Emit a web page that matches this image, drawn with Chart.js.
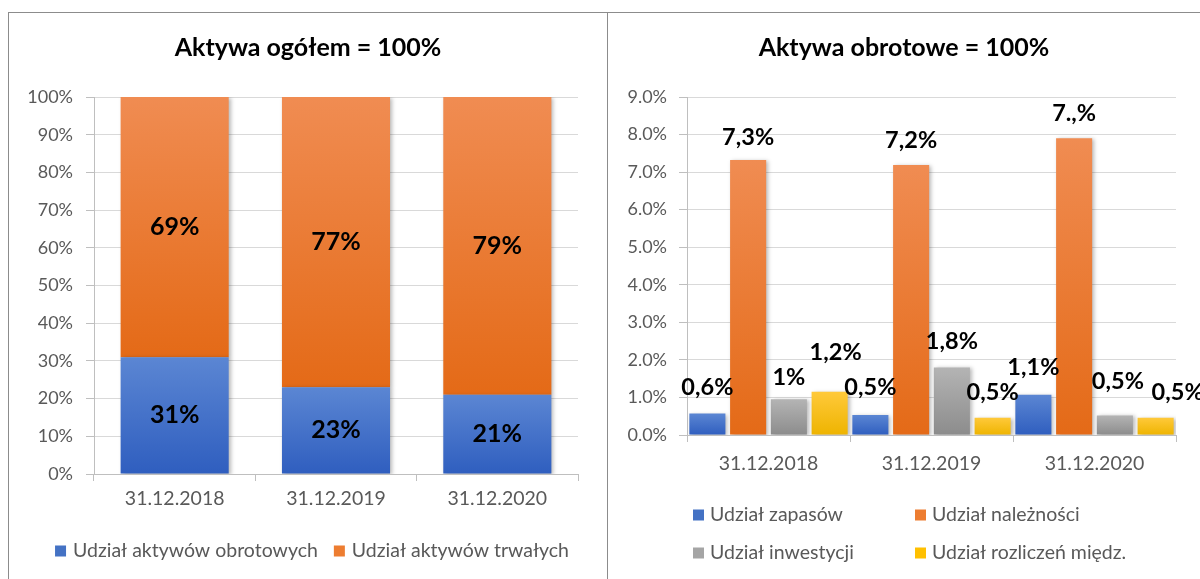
<!DOCTYPE html>
<html>
<head>
<meta charset="utf-8">
<script src="https://cdn.jsdelivr.net/npm/chart.js@4.4.0/dist/chart.umd.min.js"></script>
<style>
  html, body { margin: 0; padding: 0; background: #fff; width: 1200px; height: 579px; overflow: hidden; }
  #frame { position: absolute; left: 8px; top: 12px; width: 1200px; height: 600px; border-top: 1px solid #8c8c8c; border-left: 1px solid #8c8c8c; }
  #divider { position: absolute; left: 607px; top: 12px; width: 1px; height: 600px; background: #8c8c8c; }
  #leftBox { position: absolute; left: 9px; top: 13px; width: 598px; height: 566px; }
  #rightBox { position: absolute; left: 608px; top: 13px; width: 592px; height: 566px; }
</style>
</head>
<body>
<div id="frame"></div>
<div id="divider"></div>
<div id="leftBox"><canvas id="leftChart"></canvas></div>
<div id="rightBox"><canvas id="rightChart"></canvas></div>
<script>
// dane
const categories = ['31.12.2018', '31.12.2019', '31.12.2020'];

// lewy wykres - struktura aktywów
const udzialObrotowych = [31, 23, 21];
const udzialTrwalych = [69, 77, 79];
const leftTicks = ['0%', '10%', '20%', '30%', '40%', '50%', '60%', '70%', '80%', '90%', '100%'];
const leftLabels = [['31%', '23%', '21%'], ['69%', '77%', '79%']];

// prawy wykres - struktura aktywów obrotowych
const udzialZapasow = [0.57, 0.53, 1.07];
const udzialNaleznosci = [7.32, 7.19, 7.9];
const udzialInwestycji = [0.95, 1.8, 0.52];
const udzialRozliczen = [1.15, 0.46, 0.46];
const rightTicks = ['0.0%', '1.0%', '2.0%', '3.0%', '4.0%', '5.0%', '6.0%', '7.0%', '8.0%', '9.0%'];
const rightLabels = [
  ['0,6%', '0,5%', '1,1%'],
  ['7,3%', '7,2%', '7.,%'],
  ['1%', '1,8%', '0,5%'],
  ['1,2%', '0,5%', '0,5%']
];

const FONT = 'Lato';
const TEXT_GREY = '#595959';

// gradient od góry do dołu każdego słupka
function barGradient(top, bottom, solid) {
  return function (ctx) {
    const chart = ctx.chart;
    const y = chart.scales.y;
    if (ctx.type !== 'data' || !chart.chartArea || !y) return solid;
    const sets = chart.data.datasets;
    let start = 0;
    if (chart.options.scales.y.stacked) {
      for (let i = 0; i < ctx.datasetIndex; i++) start += sets[i].data[ctx.dataIndex];
    }
    const end = start + sets[ctx.datasetIndex].data[ctx.dataIndex];
    const yTop = y.getPixelForValue(end);
    const yBot = y.getPixelForValue(start);
    if (!isFinite(yTop) || !isFinite(yBot) || yTop === yBot) return solid;
    const g = chart.ctx.createLinearGradient(0, yTop, 0, yBot);
    g.addColorStop(0, top);
    g.addColorStop(1, bottom);
    return g;
  };
}

const BLUE = ['#5b86d3', '#2f5ebf', '#4472c4'];
const ORANGE = ['#f08c52', '#e46a17', '#ed7d31'];
const GREY = ['#b4b4b4', '#8c8c8c', '#a5a5a5'];
const YELLOW = ['#ffc93a', '#eeb400', '#ffc000'];

// cień słupków
const barShadow = {
  id: 'barShadow',
  beforeDatasetsDraw(chart) {
    const c = chart.ctx;
    c.save();
    c.shadowColor = 'rgba(0,0,0,0.28)';
    c.shadowBlur = 4;
    c.shadowOffsetX = 2;
    c.shadowOffsetY = 1;
  },
  afterDatasetsDraw(chart) {
    chart.ctx.restore();
  }
};

// etykiety danych
const valueLabels = {
  id: 'valueLabels',
  afterDatasetsDraw(chart, args, opts) {
    const c = chart.ctx;
    c.save();
    c.font = 'bold ' + opts.size + 'px ' + FONT;
    c.fillStyle = '#000';
    c.textAlign = 'center';
    c.textBaseline = 'middle';
    chart.data.datasets.forEach((ds, i) => {
      chart.getDatasetMeta(i).data.forEach((el, j) => {
        const text = opts.labels[i][j];
        if (opts.mode === 'center') {
          c.fillText(text, el.x, (el.y + el.base) / 2);
        } else {
          const n = (opts.nudge && opts.nudge[i][j]) || [0, 0];
          c.fillText(text, el.x + n[0], el.y - opts.gap + n[1]);
        }
      });
    });
    c.restore();
  }
};

// legenda rysowana na płótnie
const gridLegend = {
  id: 'gridLegend',
  afterDraw(chart, args, opts) {
    const c = chart.ctx;
    const area = chart.chartArea;
    c.save();
    c.font = opts.size + 'px ' + FONT;
    c.textBaseline = 'middle';
    c.textAlign = 'left';
    const sets = chart.data.datasets;
    if (opts.columns === 0) {
      // jeden wiersz, wyśrodkowany
      const widths = sets.map(ds => opts.box + opts.textGap + c.measureText(ds.label).width);
      const total = widths.reduce((a, b) => a + b, 0) + opts.spacing * (sets.length - 1);
      let x = chart.width / 2 - total / 2 + (opts.shift || 0);
      const y = area.bottom + opts.rowOffsets[0];
      sets.forEach((ds, i) => {
        c.fillStyle = opts.colors[i];
        c.fillRect(x, y - opts.box / 2, opts.box, opts.box);
        c.fillStyle = TEXT_GREY;
        c.fillText(ds.label, x + opts.box + opts.textGap, y);
        x += widths[i] + opts.spacing;
      });
    } else {
      sets.forEach((ds, i) => {
        const col = i % opts.columns;
        const row = Math.floor(i / opts.columns);
        const x = area.left + opts.colOffsets[col];
        const y = area.bottom + opts.rowOffsets[row];
        c.fillStyle = opts.colors[i];
        c.fillRect(x, y - opts.box / 2, opts.box, opts.box);
        c.fillStyle = TEXT_GREY;
        c.fillText(ds.label, x + opts.box + opts.textGap, y);
      });
    }
    c.restore();
  }
};

Chart.defaults.font.family = FONT;
Chart.defaults.color = TEXT_GREY;

function yAxis(ticks, max, width, padding) {
  return {
    min: 0,
    max: max,
    ticks: {
      stepSize: max / (ticks.length - 1),
      font: { size: 18 },
      color: TEXT_GREY,
      padding: padding,
      callback: (v, i) => ticks[i]
    },
    grid: { color: '#d9d9d9', tickColor: '#bfbfbf', tickLength: 8 },
    border: { display: true, color: '#bfbfbf' },
    afterFit: s => { s.width = width; }
  };
}

// pusta oś po prawej - tylko margines, żeby tytuł był wyśrodkowany na całym płótnie
function spacerAxis(width) {
  return {
    position: 'right',
    display: true,
    ticks: { display: false },
    grid: { display: false },
    border: { display: false },
    afterFit: s => { s.width = width; }
  };
}

function xAxis(height, padding) {
  return {
    ticks: { font: { size: 19.5 }, color: TEXT_GREY, padding: padding },
    grid: { drawOnChartArea: false, drawTicks: true, tickLength: 7, tickColor: '#bfbfbf', color: '#bfbfbf' },
    border: { display: true, color: '#bfbfbf' },
    afterFit: s => { s.height = height; }
  };
}

function title(text) {
  return {
    display: true,
    text: text,
    color: '#000',
    font: { size: 25, weight: 'bold', family: FONT },
    padding: { top: 20, bottom: 34 }
  };
}

// lewy wykres - słupki skumulowane
new Chart(document.getElementById('leftChart'), {
  type: 'bar',
  data: {
    labels: categories,
    datasets: [
      { label: 'Udział aktywów obrotowych', data: udzialObrotowych, backgroundColor: barGradient(BLUE[0], BLUE[1], BLUE[2]) },
      { label: 'Udział aktywów trwałych', data: udzialTrwalych, backgroundColor: barGradient(ORANGE[0], ORANGE[1], ORANGE[2]) }
    ]
  },
  options: {
    responsive: true,
    maintainAspectRatio: false,
    animation: false,
    layout: { padding: { left: 0, right: 0, bottom: 47 } },
    datasets: { bar: { barPercentage: 0.67, categoryPercentage: 1 } },
    scales: {
      x: Object.assign(xAxis(58, 6), { stacked: true }),
      y: Object.assign(yAxis(leftTicks, 100, 85, 13), { stacked: true }),
      pad: spacerAxis(29)
    },
    plugins: {
      legend: { display: false },
      tooltip: { enabled: false },
      title: title('Aktywa ogółem = 100%'),
      valueLabels: { mode: 'center', size: 25, labels: leftLabels },
      gridLegend: { columns: 0, size: 19.5, box: 11, textGap: 7, spacing: 16, shift: 4, rowOffsets: [77], colors: [BLUE[2], ORANGE[2]] }
    }
  },
  plugins: [barShadow, valueLabels, gridLegend]
});

// prawy wykres - słupki grupowane
new Chart(document.getElementById('rightChart'), {
  type: 'bar',
  data: {
    labels: categories,
    datasets: [
      { label: 'Udział zapasów', data: udzialZapasow, backgroundColor: barGradient(BLUE[0], BLUE[1], BLUE[2]) },
      { label: 'Udział należności', data: udzialNaleznosci, backgroundColor: barGradient(ORANGE[0], ORANGE[1], ORANGE[2]) },
      { label: 'Udział inwestycji', data: udzialInwestycji, backgroundColor: barGradient(GREY[0], GREY[1], GREY[2]) },
      { label: 'Udział rozliczeń międz.', data: udzialRozliczen, backgroundColor: barGradient(YELLOW[0], YELLOW[1], YELLOW[2]) }
    ]
  },
  options: {
    responsive: true,
    maintainAspectRatio: false,
    animation: false,
    layout: { padding: { left: 0, right: 0, bottom: 94 } },
    datasets: { bar: { barPercentage: 0.885, categoryPercentage: 1 } },
    scales: {
      x: xAxis(50, 10),
      y: yAxis(rightTicks, 9, 79, 12),
      pad: spacerAxis(24)
    },
    plugins: {
      legend: { display: false },
      tooltip: { enabled: false },
      title: title('Aktywa obrotowe = 100%'),
      valueLabels: {
        mode: 'top',
        size: 23.5,
        gap: 25,
        labels: rightLabels,
        nudge: [
          [[0, -1], [0, -3], [0, -2]],
          [[0, 2], [0, 0], [0, 0]],
          [[0, 3], [0, -1], [3, -9]],
          [[6, -14], [0, 0], [22, 0]]
        ]
      },
      gridLegend: { columns: 2, size: 19.5, box: 11, textGap: 6, colOffsets: [6, 228], rowOffsets: [80, 118], colors: [BLUE[2], ORANGE[2], GREY[2], YELLOW[2]] }
    }
  },
  plugins: [barShadow, valueLabels, gridLegend]
});
</script>
</body>
</html>
